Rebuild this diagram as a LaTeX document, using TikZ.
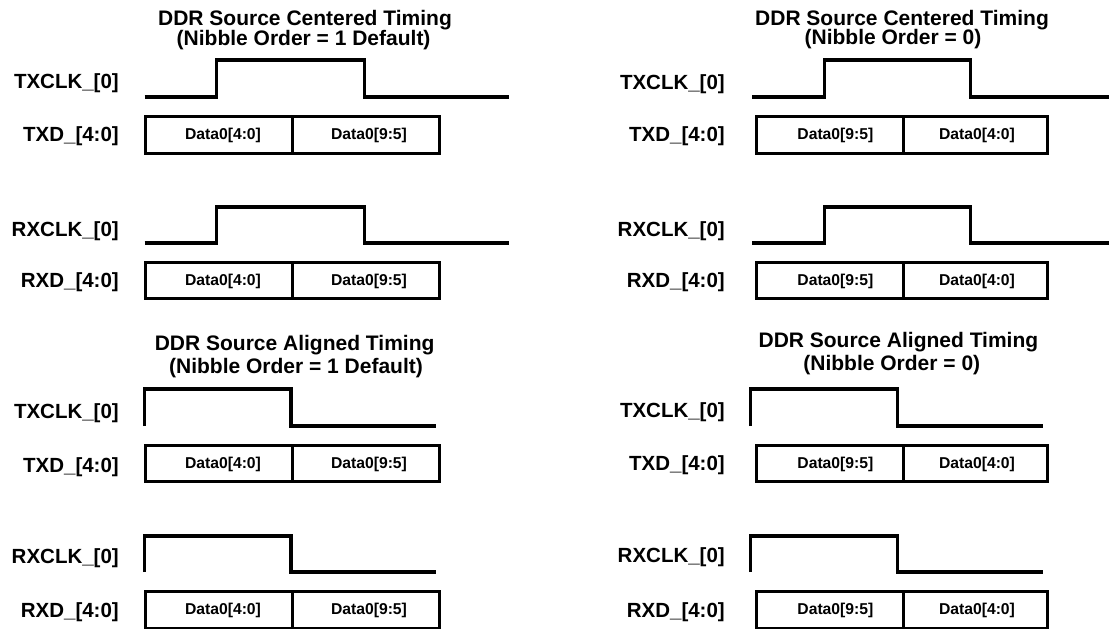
\documentclass[tikz,border=0pt]{standalone}
\usepackage{fontspec}
\setmainfont{Liberation Sans}
\tikzset{
  wave/.style={line width=3.3bp, line join=miter, line cap=butt},
  cell/.style={draw, line width=3bp, rectangle, inner sep=0pt, minimum height=37bp, anchor=north west},
  sig/.style={font=\bfseries\fontsize{20.5bp}{20bp}\selectfont, anchor=base east, inner sep=0pt},
  ttl/.style={font=\bfseries\fontsize{21bp}{20bp}\selectfont, anchor=base, inner sep=0pt},
  dtxt/.style={font=\bfseries\fontsize{15.7bp}{16bp}\selectfont, anchor=base, inner sep=0pt},
}
\begin{document}
\begin{tikzpicture}[x=1bp, y=-1bp]
\useasboundingbox (0,0) rectangle (1109,629);
\fill[white] (0,0) rectangle (1109,629);

% ===== Upper left: centered, nibble order 1 =====
\node[ttl] (t1a) at (305,26) {DDR Source Centered Timing};
\node[ttl] (t1b) at (303.6,45.5) {(Nibble Order = 1 Default)};
\node[sig] (l1a) at (119,89) {TXCLK\_[0]};
\node[sig] (l1b) at (119,142) {TXD\_[4:0]};
\node[sig] (l1c) at (119,237) {RXCLK\_[0]};
\node[sig] (l1d) at (119,288) {RXD\_[4:0]};
\draw[wave] (144.6,97) -- (216.8,97) -- (216.8,60) -- (364.3,60) -- (364.3,97) -- (509,97);
\draw[wave] (144.6,243) -- (216.8,243) -- (216.8,207) -- (364.3,207) -- (364.3,243) -- (509,243);
\node[cell, minimum width=147bp] (c1a) at (144,115) {};
\node[cell, minimum width=146.5bp] (c1b) at (291,115) {};
\node[cell, minimum width=147bp, minimum height=36.6bp] (c1c) at (144,260.7) {};
\node[cell, minimum width=146.5bp, minimum height=36.6bp] (c1d) at (291,260.7) {};
\node[dtxt] (d1a) at (223,140) {Data0[4:0]};
\node[dtxt] (d1b) at (369,140) {Data0[9:5]};
\node[dtxt] (d1c) at (223,286) {Data0[4:0]};
\node[dtxt] (d1d) at (369,286) {Data0[9:5]};

% ===== Upper right: centered, nibble order 0 =====
\node[ttl] (t2a) at (902,25.5) {DDR Source Centered Timing};
\node[ttl] (t2b) at (893,45) {(Nibble Order = 0)};
\node[sig] (l2a) at (725,90) {TXCLK\_[0]};
\node[sig] (l2b) at (725,142) {TXD\_[4:0]};
\node[sig] (l2c) at (725,237) {RXCLK\_[0]};
\node[sig] (l2d) at (725,288) {RXD\_[4:0]};
\draw[wave] (752,97) -- (824.4,97) -- (824.4,60) -- (970.4,60) -- (970.4,97) -- (1115,97);
\draw[wave] (752,243) -- (824.4,243) -- (824.4,207) -- (970.4,207) -- (970.4,243) -- (1115,243);
\node[cell, minimum width=147.4bp] (c2a) at (755,115) {};
\node[cell, minimum width=143.2bp] (c2b) at (902.4,115) {};
\node[cell, minimum width=147.4bp, minimum height=36.6bp] (c2c) at (755,260.7) {};
\node[cell, minimum width=143.2bp, minimum height=36.6bp] (c2d) at (902.4,260.7) {};
\node[dtxt] (d2a) at (835.4,140) {Data0[9:5]};
\node[dtxt] (d2b) at (977,140) {Data0[4:0]};
\node[dtxt] (d2c) at (835.4,286) {Data0[9:5]};
\node[dtxt] (d2d) at (977,286) {Data0[4:0]};

% ===== Lower left: aligned, nibble order 1 =====
\node[ttl] (t3a) at (294.6,350) {DDR Source Aligned Timing};
\node[ttl] (t3b) at (296,373) {(Nibble Order = 1 Default)};
\node[sig] (l3a) at (119,418) {TXCLK\_[0]};
\node[sig] (l3b) at (119,472) {TXD\_[4:0]};
\node[sig] (l3c) at (119,563) {RXCLK\_[0]};
\node[sig] (l3d) at (119,617) {RXD\_[4:0]};
\draw[wave] (144.6,426) -- (144.6,389) -- (291,389) -- (291,426) -- (436.4,426);
\draw[wave] (144.6,572) -- (144.6,536) -- (291,536) -- (291,572) -- (436.4,572);
\node[cell, minimum width=147bp, minimum height=36bp] (c3a) at (144,444) {};
\node[cell, minimum width=146.5bp, minimum height=36bp] (c3b) at (291,444) {};
\node[cell, minimum width=147bp] (c3c) at (144,590) {};
\node[cell, minimum width=146.5bp] (c3d) at (291,590) {};
\node[dtxt] (d3a) at (223,468) {Data0[4:0]};
\node[dtxt] (d3b) at (369,468) {Data0[9:5]};
\node[dtxt] (d3c) at (223,614) {Data0[4:0]};
\node[dtxt] (d3d) at (369,614) {Data0[9:5]};

% ===== Lower right: aligned, nibble order 0 =====
\node[ttl] (t4a) at (898.4,347) {DDR Source Aligned Timing};
\node[ttl] (t4b) at (891.8,370) {(Nibble Order = 0)};
\node[sig] (l4a) at (725,417) {TXCLK\_[0]};
\node[sig] (l4b) at (725,470) {TXD\_[4:0]};
\node[sig] (l4c) at (725,562) {RXCLK\_[0]};
\node[sig] (l4d) at (725,617) {RXD\_[4:0]};
\draw[wave] (750.8,426) -- (750.8,389) -- (897.2,389) -- (897.2,426) -- (1043.2,426);
\draw[wave] (750.8,572) -- (750.8,536) -- (897.2,536) -- (897.2,572) -- (1043.2,572);
\node[cell, minimum width=147.4bp, minimum height=36bp] (c4a) at (755,444) {};
\node[cell, minimum width=143.2bp, minimum height=36bp] (c4b) at (902.4,444) {};
\node[cell, minimum width=147.4bp] (c4c) at (755,590) {};
\node[cell, minimum width=143.2bp] (c4d) at (902.4,590) {};
\node[dtxt] (d4a) at (835.4,468) {Data0[9:5]};
\node[dtxt] (d4b) at (977,468) {Data0[4:0]};
\node[dtxt] (d4c) at (835.4,614) {Data0[9:5]};
\node[dtxt] (d4d) at (977,614) {Data0[4:0]};
\end{tikzpicture}
\end{document}
